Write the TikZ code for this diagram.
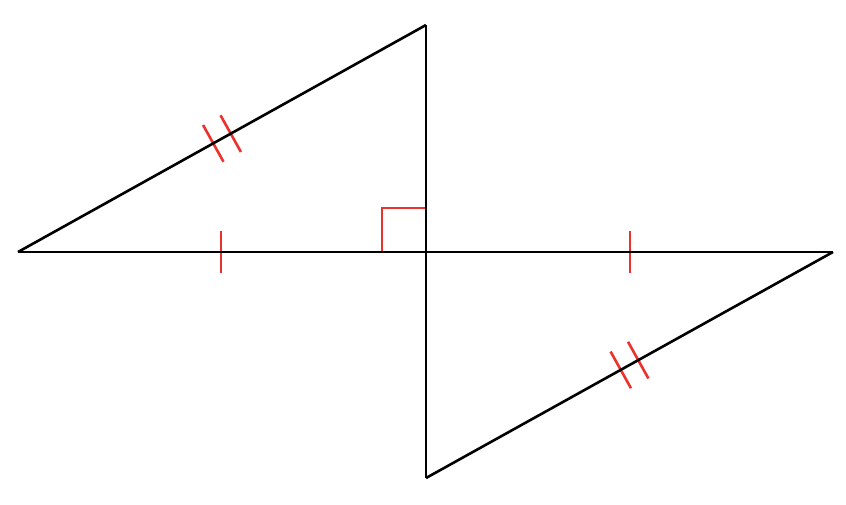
\documentclass[tikz,border=0pt]{standalone}
\usetikzlibrary{calc}
\definecolor{tickred}{RGB}{235,50,45}
\begin{document}
\begin{tikzpicture}[x=1pt,y=-1pt,
  edge/.style={draw=black,line width=2.6pt},
  tickmark/.style={draw=tickred,line width=2.6pt}]
\useasboundingbox (0,0) rectangle (846,504);
\coordinate (L) at (18,252);
\coordinate (R) at (833,252);
\coordinate (O) at (426,252);
\coordinate (T) at (426,25);
\coordinate (B) at (426,478);
% right angle mark
\draw[tickmark] (382,252) -- (382,208) -- (426,208);
% single ticks
\draw[tickmark] (221,231) -- (221,273);
\draw[tickmark] (630,231) -- (630,273);
% double ticks on hypotenuses
\coordinate (M1) at ($(L)!0.5!(T)$);
\coordinate (A1) at ($(M1)!10pt!(T)$);
\coordinate (A2) at ($(M1)!-10pt!(T)$);
\draw[tickmark] ($(A1)!21pt!90:(T)$) -- ($(A1)!21pt!-90:(T)$);
\draw[tickmark] ($(A2)!21pt!90:(T)$) -- ($(A2)!21pt!-90:(T)$);
\coordinate (M2) at ($(B)!0.5!(R)$);
\coordinate (C1) at ($(M2)!10pt!(R)$);
\coordinate (C2) at ($(M2)!-10pt!(R)$);
\draw[tickmark] ($(C1)!21pt!90:(R)$) -- ($(C1)!21pt!-90:(R)$);
\draw[tickmark] ($(C2)!21pt!90:(R)$) -- ($(C2)!21pt!-90:(R)$);
% triangles
\draw[edge] (L) -- (R);
\draw[edge] (T) -- (B);
\draw[edge] (L) -- (T);
\draw[edge] (B) -- (R);
\end{tikzpicture}
\end{document}
